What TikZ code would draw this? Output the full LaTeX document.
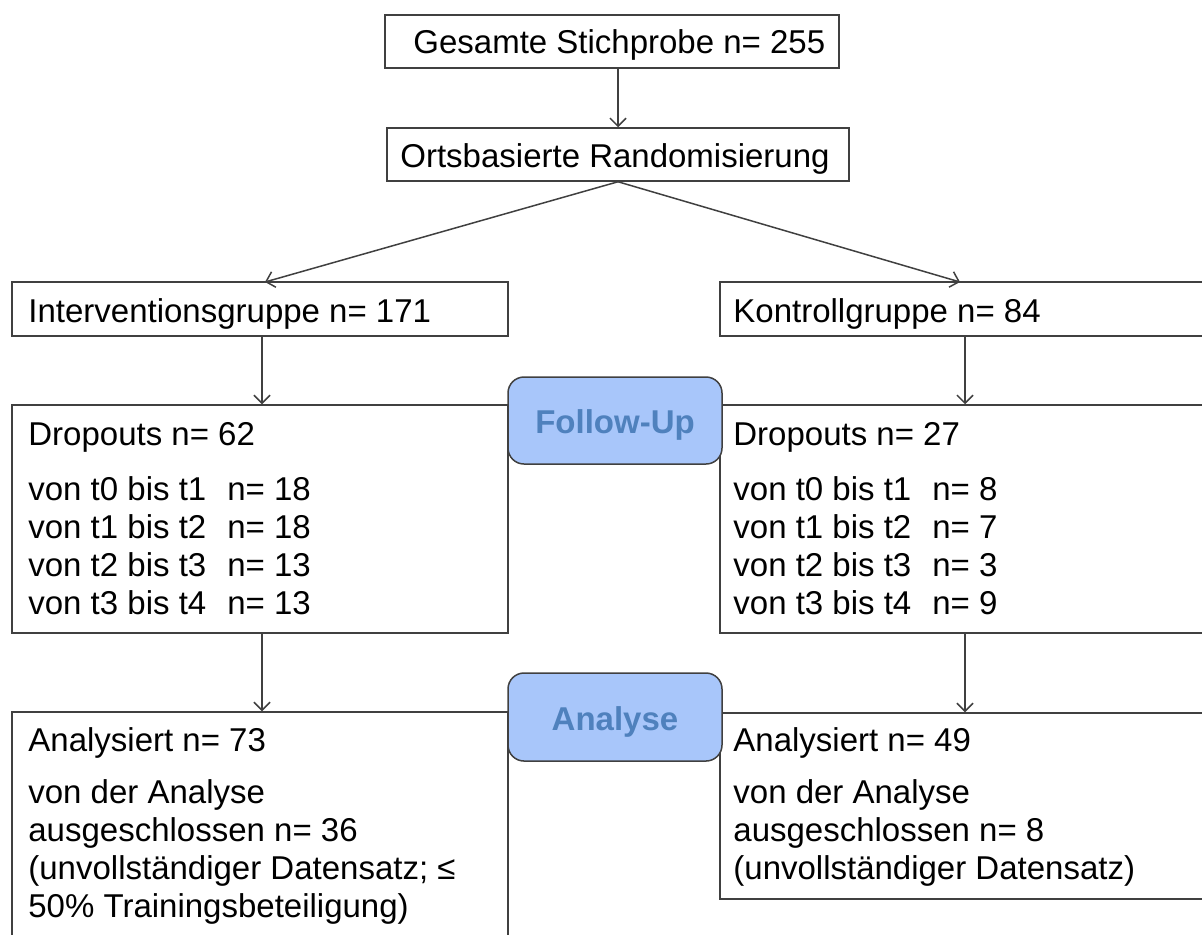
\documentclass[tikz,border=0pt]{standalone}
\usepackage{fontspec}
\setmainfont{Liberation Sans}
\usetikzlibrary{arrows.meta}
\definecolor{lc}{HTML}{404040}
\definecolor{phfill}{HTML}{A8C6FA}
\definecolor{phtext}{HTML}{4F81BD}
\begin{document}
\begin{tikzpicture}[x=0.5pt,y=-0.5pt,
  box/.style={draw=lc, line width=0.75pt, inner sep=0pt, fill=white},
  phase/.style={draw=lc, line width=0.75pt, fill=phfill, rounded corners=8pt, inner sep=0pt},
  ptxt/.style={anchor=base, inner sep=0pt, font=\fontsize{16.5}{19}\selectfont\bfseries, text=phtext},
  txt/.style={anchor=base west, inner sep=0pt, font=\fontsize{16.5}{19}\selectfont, text=black},
  arr/.style={draw=lc, line width=0.75pt, -{Straight Barb[length=4pt,width=8pt]}},
]
\useasboundingbox (0,0) rectangle (1202,934);
\begin{scope}
\clip (0,0) rectangle (1202,934);
% boxes
\node[box, minimum width=227pt, minimum height=26.5pt] (b1) at (612,41.5) {};
\node[box, minimum width=231pt, minimum height=26.5pt] (b2) at (618,154.5) {};
\node[box, minimum width=248pt, minimum height=27pt] (ig) at (260,309) {};
\node[box, minimum width=255pt, minimum height=27pt] (kg) at (975,309) {};
\node[box, minimum width=248pt, minimum height=114pt] (dl) at (260,519) {};
\node[box, minimum width=255pt, minimum height=114pt] (dr) at (975,519) {};
\node[box, minimum width=248pt, minimum height=124pt] (al) at (260,836) {};
\node[box, minimum width=255pt, minimum height=93pt] (ar) at (975,806) {};
% phase labels
\node[phase, minimum width=107pt, minimum height=43.5pt] (fu) at (615,420.5) {};
\node[phase, minimum width=107pt, minimum height=44pt] (an) at (615,717) {};
\node[ptxt] (fut) at (615,433) {Follow-Up};
\node[ptxt] (ant) at (615,730) {Analyse};
% texts
\node[txt] (t1) at (413,53) {Gesamte Stichprobe n= 255};
\node[txt] (t2) at (400,167) {Ortsbasierte Randomisierung};
\node[txt] (t3) at (28,322) {Interventionsgruppe n= 171};
\node[txt] (t4) at (733,322) {Kontrollgruppe n= 84};
\node[txt] (t5) at (28,445) {Dropouts n= 62};
\node[txt] (t6) at (28,500) {von t0 bis t1\hspace{10.5pt}n= 18};
\node[txt] (t7) at (28,538) {von t1 bis t2\hspace{10.5pt}n= 18};
\node[txt] (t8) at (28,576) {von t2 bis t3\hspace{10.5pt}n= 13};
\node[txt] (t9) at (28,614) {von t3 bis t4\hspace{10.5pt}n= 13};
\node[txt] (t10) at (733,445) {Dropouts n= 27};
\node[txt] (t11) at (733,500) {von t0 bis t1\hspace{10.5pt}n= 8};
\node[txt] (t12) at (733,538) {von t1 bis t2\hspace{10.5pt}n= 7};
\node[txt] (t13) at (733,576) {von t2 bis t3\hspace{10.5pt}n= 3};
\node[txt] (t14) at (733,614) {von t3 bis t4\hspace{10.5pt}n= 9};
\node[txt] (t15) at (28,751) {Analysiert n= 73};
\node[txt] (t16) at (28,803) {von der Analyse};
\node[txt] (t17) at (28,841) {ausgeschlossen n= 36};
\node[txt] (t18) at (28,879) {(unvollständiger Datensatz; ≤};
\node[txt] (t19) at (28,917) {50\% Trainingsbeteiligung)};
\node[txt] (t20) at (733,751) {Analysiert n= 49};
\node[txt] (t21) at (733,803) {von der Analyse};
\node[txt] (t22) at (733,841) {ausgeschlossen n= 8};
\node[txt] (t23) at (733,879) {(unvollständiger Datensatz)};
% connectors
\coordinate (igin) at (265,282);
\coordinate (kgin) at (960,282);
\coordinate (lx) at (262,0);
\coordinate (rx) at (965,0);
\draw[arr] (b2.north |- b1.south) -- (b2.north);
\draw[arr] (b2.south) -- (igin);
\draw[arr] (b2.south) -- (kgin);
\draw[arr] (lx |- ig.south) -- (lx |- dl.north);
\draw[arr] (rx |- kg.south) -- (rx |- dr.north);
\draw[arr] (lx |- dl.south) -- (lx |- al.north);
\draw[arr] (rx |- dr.south) -- (rx |- ar.north);
\end{scope}
\end{tikzpicture}
\end{document}
